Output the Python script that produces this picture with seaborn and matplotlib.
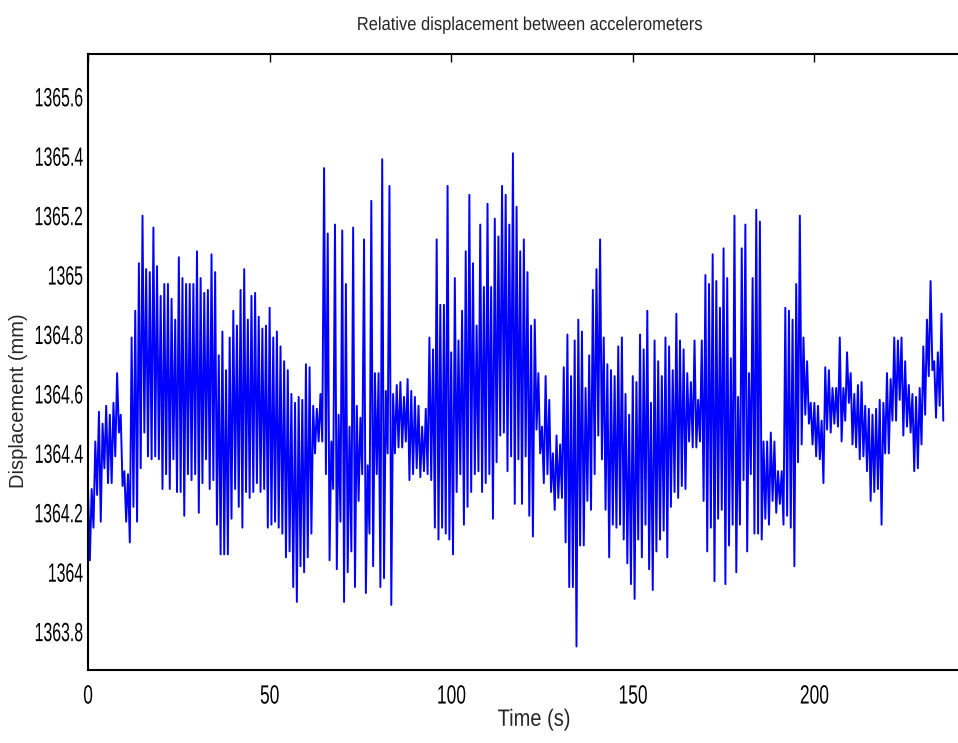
import numpy as np
import pandas as pd
import matplotlib
matplotlib.use("Agg")
import matplotlib.pyplot as plt
from matplotlib.ticker import FormatStrFormatter
from matplotlib.patheffects import AbstractPathEffect
from matplotlib.transforms import Affine2D
import seaborn as sns

# upper / lower excursion of the displacement in each 1 s window (mm)
disp_hi = [
    1364.28, 1364.28, 1364.44, 1364.54, 1364.50, 1364.56, 1364.53, 1364.57, 1364.67, 1364.53,
    1364.34, 1364.33, 1364.79, 1364.88, 1365.04, 1365.20, 1365.02, 1365.01, 1365.16, 1365.03,
    1364.93, 1364.97, 1364.97, 1364.92, 1364.85, 1365.06, 1364.99, 1364.97, 1364.97, 1364.97,
    1365.08, 1364.99, 1364.94, 1364.95, 1365.07, 1365.01, 1364.73, 1364.81, 1364.68, 1364.79,
    1364.88, 1364.83, 1364.95, 1365.02, 1364.85, 1364.93, 1364.94, 1364.86, 1364.82, 1364.83,
    1364.89, 1364.79, 1364.81, 1364.76, 1364.71, 1364.68, 1364.60, 1364.57, 1364.59, 1364.58,
    1364.70, 1364.69, 1364.56, 1364.55, 1364.60, 1365.36, 1365.14, 1364.44, 1365.17, 1364.53,
    1365.15, 1364.97, 1364.49, 1365.16, 1364.56, 1364.52, 1365.12, 1364.36, 1365.25, 1364.67,
    1364.67, 1365.39, 1364.61, 1365.30, 1364.60, 1364.63, 1364.64, 1364.59, 1364.65, 1364.61,
    1364.59, 1364.56, 1364.49, 1364.55, 1364.79, 1364.75, 1365.12, 1364.90, 1364.90, 1365.30,
    1364.74, 1364.99, 1364.78, 1364.88, 1365.08, 1365.27, 1365.04, 1364.83, 1365.17, 1364.96,
    1365.24, 1364.96, 1365.19, 1365.13, 1365.30, 1365.27, 1365.17, 1365.41, 1365.23, 1365.08,
    1365.12, 1365.01, 1364.83, 1364.85, 1364.67, 1364.49, 1364.66, 1364.58, 1364.40, 1364.46,
    1364.43, 1364.69, 1364.80, 1364.66, 1364.78, 1364.85, 1364.81, 1364.62, 1364.73, 1364.95,
    1365.02, 1365.12, 1364.79, 1364.70, 1364.68, 1364.66, 1364.76, 1364.79, 1364.60, 1364.53,
    1364.66, 1364.64, 1364.80, 1364.75, 1364.88, 1364.57, 1364.78, 1364.71, 1364.66, 1364.79,
    1364.76, 1364.68, 1364.87, 1364.78, 1364.75, 1364.67, 1364.64, 1364.78, 1364.58, 1364.78,
    1365.00, 1364.97, 1365.07, 1364.98, 1364.89, 1365.09, 1364.99, 1364.72, 1365.20, 1364.59,
    1365.09, 1365.17, 1364.67, 1364.99, 1365.22, 1365.18, 1364.44, 1364.44, 1364.47, 1364.44,
    1364.34, 1364.34, 1364.89, 1364.88, 1364.85, 1364.97, 1365.20, 1364.79, 1364.71, 1364.57,
    1364.57, 1364.56, 1364.51, 1364.69, 1364.68, 1364.62, 1364.62, 1364.79, 1364.62, 1364.74,
    1364.67, 1364.60, 1364.63, 1364.64, 1364.56, 1364.55, 1364.53, 1364.55, 1364.58, 1364.57,
    1364.67, 1364.65, 1364.79, 1364.78, 1364.79, 1364.71, 1364.63, 1364.60, 1364.59, 1364.62,
    1364.76, 1364.85, 1364.98, 1364.71, 1364.74, 1364.87,
]
disp_lo = [
    1364.04, 1364.15, 1364.26, 1364.17, 1364.35, 1364.30, 1364.30, 1364.39, 1364.47, 1364.29,
    1364.17, 1364.10, 1364.22, 1364.17, 1364.35, 1364.47, 1364.39, 1364.38, 1364.39, 1364.38,
    1364.28, 1364.33, 1364.28, 1364.38, 1364.27, 1364.27, 1364.19, 1364.33, 1364.31, 1364.33,
    1364.20, 1364.30, 1364.38, 1364.28, 1364.31, 1364.16, 1364.06, 1364.06, 1364.06, 1364.18,
    1364.28, 1364.22, 1364.15, 1364.27, 1364.25, 1364.27, 1364.30, 1364.27, 1364.28, 1364.15,
    1364.16, 1364.17, 1364.15, 1364.13, 1364.05, 1364.07, 1363.95, 1363.90, 1364.02, 1364.00,
    1364.05, 1364.13, 1364.40, 1364.44, 1364.44, 1364.33, 1364.04, 1364.28, 1364.01, 1364.17,
    1363.90, 1364.00, 1364.07, 1363.95, 1364.24, 1364.33, 1363.93, 1364.13, 1364.02, 1364.33,
    1363.95, 1363.98, 1364.40, 1363.89, 1364.40, 1364.42, 1364.42, 1364.44, 1364.31, 1364.33,
    1364.35, 1364.32, 1364.34, 1364.33, 1364.31, 1364.15, 1364.11, 1364.15, 1364.13, 1364.11,
    1364.06, 1364.27, 1364.33, 1364.16, 1364.22, 1364.27, 1364.33, 1364.34, 1364.27, 1364.30,
    1364.33, 1364.18, 1364.37, 1364.46, 1364.47, 1364.34, 1364.39, 1364.23, 1364.38, 1364.23,
    1364.39, 1364.19, 1364.12, 1364.48, 1364.40, 1364.30, 1364.33, 1364.27, 1364.21, 1364.25,
    1364.25, 1364.10, 1363.95, 1363.95, 1363.75, 1364.09, 1364.09, 1364.24, 1364.21, 1364.33,
    1364.46, 1364.38, 1364.21, 1364.05, 1364.16, 1364.15, 1364.16, 1364.11, 1364.03, 1363.96,
    1363.91, 1364.11, 1364.05, 1364.16, 1364.01, 1363.94, 1364.07, 1364.11, 1364.14, 1364.05,
    1364.22, 1364.27, 1364.25, 1364.29, 1364.28, 1364.44, 1364.42, 1364.42, 1364.44, 1364.24,
    1364.07, 1364.15, 1363.97, 1364.18, 1364.21, 1363.96, 1364.09, 1364.16, 1364.00, 1364.16,
    1364.31, 1364.07, 1364.33, 1364.13, 1364.13, 1364.11, 1364.18, 1364.16, 1364.24, 1364.20,
    1364.23, 1364.16, 1364.19, 1364.15, 1364.02, 1364.37, 1364.43, 1364.53, 1364.50, 1364.43,
    1364.39, 1364.38, 1364.30, 1364.48, 1364.47, 1364.50, 1364.49, 1364.44, 1364.51, 1364.57,
    1364.43, 1364.42, 1364.38, 1364.39, 1364.34, 1364.24, 1364.27, 1364.28, 1364.16, 1364.40,
    1364.40, 1364.51, 1364.51, 1364.58, 1364.46, 1364.49, 1364.47, 1364.34, 1364.35, 1364.43,
    1364.53, 1364.66, 1364.68, 1364.52, 1364.56, 1364.51,
]

y_ticks = [1363.8, 1364.0, 1364.2, 1364.4, 1364.6, 1364.8, 1365.0, 1365.2, 1365.4, 1365.6]
x_ticks = [0, 50, 100, 150, 200]


class Squeeze(AbstractPathEffect):
    """Draw text narrower, like the condensed Helvetica of the original export."""

    def __init__(self, sx, anchor="center"):
        super().__init__()
        self.sx = sx
        self.anchor = anchor

    def draw_path(self, renderer, gc, tpath, affine, rgbFace=None):
        ext = tpath.get_extents()
        x0 = {"left": ext.x0, "center": (ext.x0 + ext.x1) / 2, "right": ext.x1}[self.anchor]
        squeeze = Affine2D().translate(-x0, 0).scale(self.sx, 1).translate(x0, 0)
        renderer.draw_path(gc, tpath, squeeze + affine, rgbFace)


# sample times: peak at start of each second, trough half a second later
t_hi = np.arange(len(disp_hi), dtype=float)
t_lo = t_hi + 0.5
df = pd.DataFrame({
    "Time (s)": np.column_stack([t_hi, t_lo]).ravel(),
    "Displacement (mm)": np.column_stack([disp_hi, disp_lo]).ravel(),
})

sns.set_style("white")
plt.rcParams["font.family"] = ["Liberation Sans", "DejaVu Sans"]

fig = plt.figure(figsize=(9.58, 7.43), dpi=100)
ax = fig.add_axes([0.0919, 0.0983, 0.9098, 0.829])
sns.lineplot(data=df, x="Time (s)", y="Displacement (mm)", color="#0000ff",
             linewidth=1.4, estimator=None, sort=False, ax=ax)

ax.set_xlim(0, 240)
ax.set_ylim(1363.671, 1365.744)
ax.set_xticks(x_ticks)
ax.set_yticks(y_ticks)
ax.yaxis.set_major_formatter(FormatStrFormatter("%g"))
ax.tick_params(axis="both", direction="in", labelsize=19, colors="black",
               top=True, right=False, width=1)
ax.tick_params(axis="x", length=15, pad=10.5)
ax.tick_params(axis="y", length=8, pad=3.5)
for tick in ax.xaxis.get_major_ticks():
    tick.tick2line.set_markersize(6)
    tick.label1.set_path_effects([Squeeze(0.66, "center")])
for tick in ax.yaxis.get_major_ticks():
    tick.label1.set_path_effects([Squeeze(0.6, "right")])
for s in ax.spines.values():
    s.set_linewidth(1.5)
    s.set_color("black")

title = ax.set_title("Relative displacement between accelerometers", fontsize=13.5,
                     x=0.506, y=1.039, pad=0)
title.set_path_effects([Squeeze(0.88, "center")])
ax.set_xlabel("Time (s)", fontsize=17)
ax.xaxis.label.set_path_effects([Squeeze(0.85, "center")])
ax.xaxis.set_label_coords(0.512, -0.063)
ax.set_ylabel("Displacement (mm)", fontsize=14.5)
ax.yaxis.set_label_coords(-0.069, 0.437)

fig.savefig("out.png", dpi=100)
